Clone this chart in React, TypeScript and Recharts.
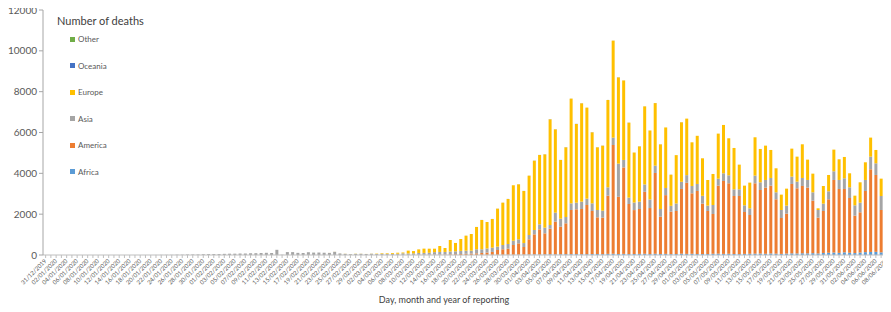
import { Bar, BarChart, XAxis, YAxis } from 'recharts';

// daily deaths by continent, from 31/12/2019 to 08/06/2020 (161 days)
const africa = [
  0, 0, 0, 0, 0, 0, 0, 0, 0, 0,
  0, 0, 0, 0, 0, 0, 0, 0, 0, 0,
  0, 0, 0, 0, 0, 0, 0, 0, 0, 0,
  0, 0, 0, 0, 0, 0, 0, 0, 0, 0,
  0, 0, 0, 0, 0, 0, 0, 0, 0, 0,
  0, 0, 0, 0, 0, 0, 0, 0, 0, 0,
  0, 0, 0, 0, 0, 0, 0, 0, 0, 1,
  0, 1, 1, 1, 1, 1, 2, 2, 3, 3,
  4, 5, 6, 7, 8, 9, 10, 12, 14, 15,
  17, 20, 25, 30, 25, 30, 35, 30, 35, 40,
  40, 45, 35, 40, 45, 50, 40, 55, 60, 50,
  55, 45, 50, 55, 60, 45, 60, 50, 55, 40,
  50, 65, 55, 60, 50, 45, 50, 60, 65, 55,
  60, 50, 45, 55, 60, 65, 70, 60, 75, 65,
  55, 70, 80, 75, 85, 80, 90, 75, 100, 110,
  120, 105, 130, 110, 95, 120, 140, 150, 155, 130,
  145,
];

const america = [
  0, 0, 0, 0, 0, 0, 0, 0, 0, 0,
  0, 0, 0, 0, 0, 0, 0, 0, 0, 0,
  0, 0, 0, 0, 0, 0, 0, 0, 0, 0,
  0, 0, 0, 0, 0, 0, 0, 0, 0, 0,
  0, 0, 0, 0, 0, 0, 0, 0, 0, 0,
  0, 0, 0, 0, 0, 0, 0, 0, 0, 0,
  1, 1, 4, 3, 2, 3, 2, 4, 3, 4,
  6, 8, 10, 12, 19, 19, 23, 33, 37, 47,
  56, 65, 76, 93, 112, 141, 235, 268, 296, 475,
  553, 373, 743, 982, 1232, 1031, 1255, 1603, 1353, 1511,
  2165, 2192, 2219, 2410, 2111, 1795, 1789, 2852, 5329, 2800,
  4235, 2454, 2150, 2199, 3035, 2255, 3958, 1828, 2877, 2084,
  2106, 3169, 3481, 2962, 3086, 2471, 2106, 1949, 3332, 3571,
  3452, 2841, 2846, 2052, 1900, 3447, 3115, 3240, 3322, 2663,
  1758, 1955, 3399, 3192, 3296, 3220, 2572, 1755, 2056, 2618,
  3555, 3129, 3104, 2683, 1833, 1971, 2996, 4048, 3765, 2075,
  2501,
];

const asia = [
  0, 0, 0, 0, 0, 0, 0, 0, 0, 0,
  0, 1, 0, 0, 0, 0, 0, 0, 0, 0,
  1, 3, 6, 8, 8, 16, 15, 24, 26, 26,
  38, 43, 46, 45, 57, 64, 65, 73, 73, 86,
  89, 97, 108, 97, 254, 13, 143, 142, 105, 98,
  136, 116, 121, 111, 102, 157, 77, 58, 37, 54,
  59, 49, 58, 47, 58, 53, 55, 58, 82, 72,
  77, 92, 91, 97, 120, 130, 125, 135, 140, 150,
  150, 140, 198, 180, 200, 210, 165, 210, 230, 210,
  200, 192, 212, 213, 245, 278, 180, 441, 392, 311,
  326, 327, 359, 310, 375, 360, 343, 408, 359, 1625,
  365, 311, 370, 359, 360, 420, 357, 376, 351, 285,
  368, 351, 376, 359, 343, 384, 262, 441, 343, 376,
  392, 327, 327, 327, 327, 376, 376, 375, 376, 343,
  392, 393, 360, 327, 392, 375, 409, 375, 360, 392,
  425, 441, 523, 523, 506, 473, 539, 620, 572, 686,
  621,
];

const europe = [
  0, 0, 0, 0, 0, 0, 0, 0, 0, 0,
  0, 0, 0, 0, 0, 0, 0, 0, 0, 0,
  0, 0, 0, 0, 0, 0, 0, 0, 0, 0,
  0, 0, 0, 0, 0, 0, 0, 0, 0, 0,
  0, 0, 0, 0, 0, 0, 1, 0, 0, 0,
  0, 0, 0, 1, 2, 3, 2, 5, 4, 8,
  5, 3, 6, 18, 28, 30, 42, 50, 38, 138,
  110, 175, 210, 200, 170, 290, 193, 565, 410, 585,
  737, 820, 1092, 1435, 1297, 1404, 1860, 2074, 2204, 2714,
  2692, 2551, 2906, 3395, 3398, 3591, 5176, 4082, 2874, 3413,
  5128, 3854, 4817, 4458, 3479, 3070, 3184, 4279, 4752, 4225,
  3895, 3674, 2450, 2707, 3825, 3380, 3065, 3166, 2965, 1527,
  2368, 2915, 2768, 2139, 2359, 1837, 1257, 1519, 2206, 2368,
  1813, 2025, 1208, 964, 1258, 1878, 1633, 1682, 1372, 1176,
  752, 832, 1371, 1224, 1650, 996, 914, 82, 865, 800,
  1062, 1013, 1045, 686, 473, 997, 866, 932, 653, 849,
  653,
];

const oceania = [
  0, 0, 0, 0, 0, 0, 0, 0, 0, 0,
  0, 0, 0, 0, 0, 0, 0, 0, 0, 0,
  0, 0, 0, 0, 0, 0, 0, 0, 0, 0,
  0, 0, 0, 0, 0, 0, 0, 0, 0, 0,
  0, 0, 0, 0, 0, 0, 0, 0, 0, 0,
  0, 0, 0, 0, 0, 0, 0, 0, 0, 0,
  0, 0, 1, 0, 0, 0, 0, 0, 0, 0,
  0, 0, 1, 0, 1, 0, 1, 0, 1, 0,
  2, 1, 2, 3, 1, 2, 3, 2, 4, 3,
  2, 4, 3, 5, 2, 4, 6, 3, 4, 5,
  3, 6, 4, 2, 5, 3, 4, 2, 3, 5,
  2, 3, 1, 4, 2, 1, 3, 2, 1, 2,
  1, 3, 1, 0, 1, 0, 0, 1, 0, 0,
  1, 0, 0, 1, 0, 0, 0, 0, 1, 0,
  0, 0, 0, 0, 1, 0, 0, 0, 0, 0,
  0, 0, 1, 0, 0, 0, 0, 0, 0, 0,
  0,
];

const other = [
  0, 0, 0, 0, 0, 0, 0, 0, 0, 0,
  0, 0, 0, 0, 0, 0, 0, 0, 0, 0,
  0, 0, 0, 0, 0, 0, 0, 0, 0, 0,
  0, 0, 0, 0, 0, 0, 0, 0, 0, 0,
  0, 0, 0, 0, 0, 0, 0, 0, 0, 0,
  0, 2, 0, 0, 1, 1, 0, 1, 0, 2,
  0, 1, 0, 0, 0, 1, 0, 0, 0, 0,
  0, 0, 0, 0, 0, 0, 0, 0, 0, 0,
  0, 0, 0, 0, 0, 0, 0, 0, 0, 0,
  0, 0, 0, 0, 0, 0, 0, 0, 0, 0,
  0, 0, 0, 0, 0, 0, 0, 0, 0, 0,
  0, 0, 0, 0, 0, 0, 0, 0, 0, 0,
  0, 0, 0, 0, 0, 0, 0, 0, 0, 0,
  0, 0, 0, 0, 0, 0, 0, 0, 0, 0,
  0, 0, 0, 0, 0, 0, 0, 0, 0, 0,
  0, 0, 0, 0, 0, 0, 0, 0, 0, 0,
  0,
];

const yTicks = [0, 2000, 4000, 6000, 8000, 10000, 12000];

// category labels dd/mm/yyyy, one per day
const pad = (n: number) => String(n).padStart(2, '0');
const dates = africa.map((_, i) => {
  const d = new Date(Date.UTC(2019, 11, 31) + i * 86400000);
  return `${pad(d.getUTCDate())}/${pad(d.getUTCMonth() + 1)}/${d.getUTCFullYear()}`;
});

const data = dates.map((date, i) => ({
  date,
  africa: africa[i],
  america: america[i],
  asia: asia[i],
  europe: europe[i],
  oceania: oceania[i],
  other: other[i],
}));

const legendItems = [
  { name: 'Other', color: '#70AD47' },
  { name: 'Oceania', color: '#4472C4' },
  { name: 'Europe', color: '#FFC000' },
  { name: 'Asia', color: '#A5A5A5' },
  { name: 'America', color: '#ED7D31' },
  { name: 'Africa', color: '#5B9BD5' },
];

function DateTick(props: any) {
  const { x, y, payload } = props;
  const i = props.index ?? payload.index;
  if (i % 2 !== 0) return null;
  return (
    <text
      x={x}
      y={y}
      dy={2}
      transform={`rotate(-45 ${x} ${y})`}
      textAnchor="end"
      fontSize={6}
      fill="#595959"
    >
      {payload.value}
    </text>
  );
}

export default function App() {
  return (
    <div style={{ position: 'relative', width: 891, height: 312, margin: '-8px 0 0 -8px', fontFamily: 'Lato, sans-serif' }}>
      <BarChart
        width={891}
        height={312}
        data={data}
        margin={{ top: 10, right: 2, bottom: 0, left: 0 }}
        barCategoryGap="22%"
      >
        <XAxis
          dataKey="date"
          interval={0}
          height={57}
          tick={<DateTick />}
          tickSize={3}
          tickLine={{ stroke: '#bfbfbf' }}
          axisLine={{ stroke: '#bfbfbf' }}
        />
        <YAxis
          width={43}
          domain={[0, 12000]}
          ticks={yTicks}
          interval={0}
          tickSize={4}
          tick={{ fill: '#595959', fontSize: 10 }}
          tickLine={{ stroke: '#a6a6a6' }}
          axisLine={{ stroke: '#a6a6a6' }}
        />
        <Bar dataKey="africa" stackId="a" fill="#5B9BD5" isAnimationActive={false} />
        <Bar dataKey="america" stackId="a" fill="#ED7D31" isAnimationActive={false} />
        <Bar dataKey="asia" stackId="a" fill="#A5A5A5" isAnimationActive={false} />
        <Bar dataKey="europe" stackId="a" fill="#FFC000" isAnimationActive={false} />
        <Bar dataKey="oceania" stackId="a" fill="#4472C4" isAnimationActive={false} />
        <Bar dataKey="other" stackId="a" fill="#70AD47" isAnimationActive={false} />
      </BarChart>

      <div style={{ position: 'absolute', left: 57, top: 14, fontSize: 11, color: '#404040', lineHeight: '14px' }}>
        Number of deaths
      </div>
      {legendItems.map((item, k) => (
        <div
          key={item.name}
          style={{
            position: 'absolute',
            left: 70,
            top: 39 + k * 26.5 - 6,
            height: 12,
            display: 'flex',
            alignItems: 'center',
            fontSize: 8,
            color: '#595959',
          }}
        >
          <span style={{ display: 'inline-block', width: 5, height: 5, background: item.color, marginRight: 3 }} />
          {item.name}
        </div>
      ))}
      <div
        style={{
          position: 'absolute',
          left: 344,
          width: 200,
          top: 294,
          textAlign: 'center',
          fontSize: 9,
          color: '#404040',
        }}
      >
        Day, month and year of reporting
      </div>
    </div>
  );
}
